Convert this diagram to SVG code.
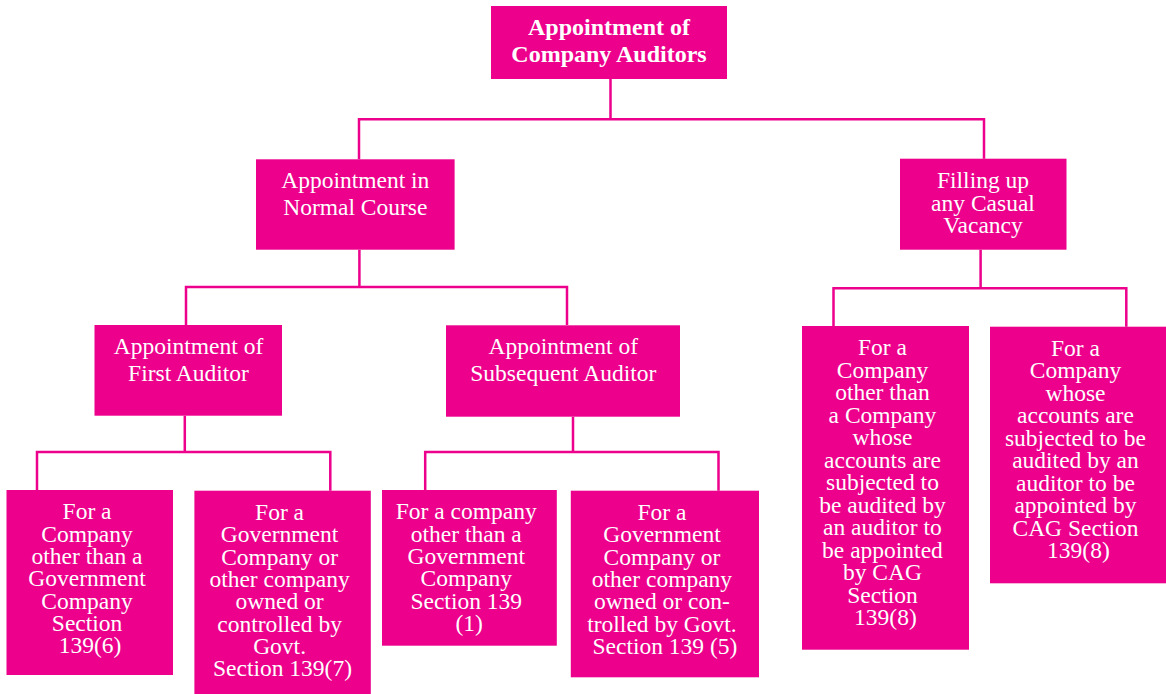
<svg xmlns="http://www.w3.org/2000/svg" width="1166" height="694" viewBox="0 0 1166 694">
<style>
.box{fill:#EC008C;}
.t{font-family:"Liberation Serif","Times New Roman",serif;fill:#ffffff;text-anchor:middle;font-size:23.5px;}
.b{font-weight:bold;font-size:24px;}
.c{fill:none;stroke:#EC008C;stroke-width:2.5;}
</style>
<rect width="1166" height="694" fill="#ffffff"/>
<g id="connectors">
<path class="c" d="M610.5,79 V119.3 M359,159.3 V119.3 H984 V158.7"/>
<path class="c" d="M359.4,249.7 V287 M186,325 V287 H567 V325"/>
<path class="c" d="M184.8,415.7 V452 M37,490 V452 H330.3 V490.7"/>
<path class="c" d="M573,416.7 V452 M425.2,490 V452 H718.5 V490.7"/>
<path class="c" d="M980.6,249.7 V288.3 M833.5,326 V288.3 H1126.3 V326.7"/>
</g>
<g id="root">
<rect class="box" x="491" y="6" width="236" height="73"/>
<text class="t b" x="609" y="35">Appointment of</text>
<text class="t b" x="609" y="61.7">Company Auditors</text>
</g>
<g id="normal">
<rect class="box" x="256" y="159.3" width="198.6" height="90.4"/>
<text class="t" x="355.3" y="188.3">Appointment in</text>
<text class="t" x="355.3" y="215">Normal Course</text>
</g>
<g id="casual">
<rect class="box" x="900" y="158.7" width="166.5" height="91"/>
<text class="t" x="983" y="188.3">Filling up</text>
<text class="t" x="983" y="210.8">any Casual</text>
<text class="t" x="983" y="233.3">Vacancy</text>
</g>
<g id="first">
<rect class="box" x="94.5" y="325" width="187.5" height="90.7"/>
<text class="t" x="188.5" y="354.3">Appointment of</text>
<text class="t" x="188.5" y="381">First Auditor</text>
</g>
<g id="subsequent">
<rect class="box" x="446" y="325.3" width="234" height="91.4"/>
<text class="t" x="563.3" y="354.3">Appointment of</text>
<text class="t" x="563.3" y="381">Subsequent Auditor</text>
</g>
<g id="nodeA">
<rect class="box" x="6.5" y="490" width="166.5" height="185"/>
<text class="t" x="90">
<tspan x="90" y="519.3">For a</tspan>
<tspan x="90" y="541.6">Company</tspan>
<tspan x="90" y="563.9">other than a</tspan>
<tspan x="90" y="586.2">Government</tspan>
<tspan x="90" y="608.5">Company</tspan>
<tspan x="90" y="630.8">Section</tspan>
<tspan x="90" y="653.1">139(6)</tspan>
</text>
</g>
<g id="nodeB">
<rect class="box" x="194.4" y="490.7" width="176.4" height="203.3"/>
<text class="t" x="282.5">
<tspan x="282.5" y="520">For a</tspan>
<tspan x="282.5" y="542.3">Government</tspan>
<tspan x="282.5" y="564.6">Company or</tspan>
<tspan x="282.5" y="586.9">other company</tspan>
<tspan x="282.5" y="609.2">owned or</tspan>
<tspan x="282.5" y="631.5">controlled by</tspan>
<tspan x="282.5" y="653.8">Govt.</tspan>
<tspan x="282.5" y="676.1">Section 139(7)</tspan>
</text>
</g>
<g id="nodeC">
<rect class="box" x="382" y="490" width="174.8" height="155.7"/>
<text class="t" x="469.2">
<tspan x="469.2" y="519.3">For a company</tspan>
<tspan x="469.2" y="541.6">other than a</tspan>
<tspan x="469.2" y="563.9">Government</tspan>
<tspan x="469.2" y="586.2">Company</tspan>
<tspan x="469.2" y="608.5">Section 139</tspan>
<tspan x="469.2" y="630.8">(1)</tspan>
</text>
</g>
<g id="nodeD">
<rect class="box" x="570.8" y="490.7" width="188.2" height="186.6"/>
<text class="t" x="664.9">
<tspan x="664.9" y="520">For a</tspan>
<tspan x="664.9" y="542.3">Government</tspan>
<tspan x="664.9" y="564.6">Company or</tspan>
<tspan x="664.9" y="586.9">other company</tspan>
<tspan x="664.9" y="609.2">owned or con-</tspan>
<tspan x="664.9" y="631.5">trolled by Govt.</tspan>
<tspan x="664.9" y="653.8">Section 139 (5)</tspan>
</text>
</g>
<g id="nodeE">
<rect class="box" x="802" y="326" width="167" height="323.7"/>
<text class="t" x="885.4">
<tspan x="885.4" y="355">For a</tspan>
<tspan x="885.4" y="377.5">Company</tspan>
<tspan x="885.4" y="400">other than</tspan>
<tspan x="885.4" y="422.5">a Company</tspan>
<tspan x="885.4" y="445">whose</tspan>
<tspan x="885.4" y="467.5">accounts are</tspan>
<tspan x="885.4" y="490">subjected to</tspan>
<tspan x="885.4" y="512.5">be audited by</tspan>
<tspan x="885.4" y="535">an auditor to</tspan>
<tspan x="885.4" y="557.5">be appointed</tspan>
<tspan x="885.4" y="580">by CAG</tspan>
<tspan x="885.4" y="602.5">Section</tspan>
<tspan x="885.4" y="625">139(8)</tspan>
</text>
</g>
<g id="nodeF">
<rect class="box" x="990" y="326.7" width="176" height="256.6"/>
<text class="t" x="1078.4">
<tspan x="1078.4" y="355.7">For a</tspan>
<tspan x="1078.4" y="378.2">Company</tspan>
<tspan x="1078.4" y="400.7">whose</tspan>
<tspan x="1078.4" y="423.2">accounts are</tspan>
<tspan x="1078.4" y="445.7">subjected to be</tspan>
<tspan x="1078.4" y="468.2">audited by an</tspan>
<tspan x="1078.4" y="490.7">auditor to be</tspan>
<tspan x="1078.4" y="513.2">appointed by</tspan>
<tspan x="1078.4" y="535.7">CAG Section</tspan>
<tspan x="1078.4" y="558.2">139(8)</tspan>
</text>
</g>
</svg>
